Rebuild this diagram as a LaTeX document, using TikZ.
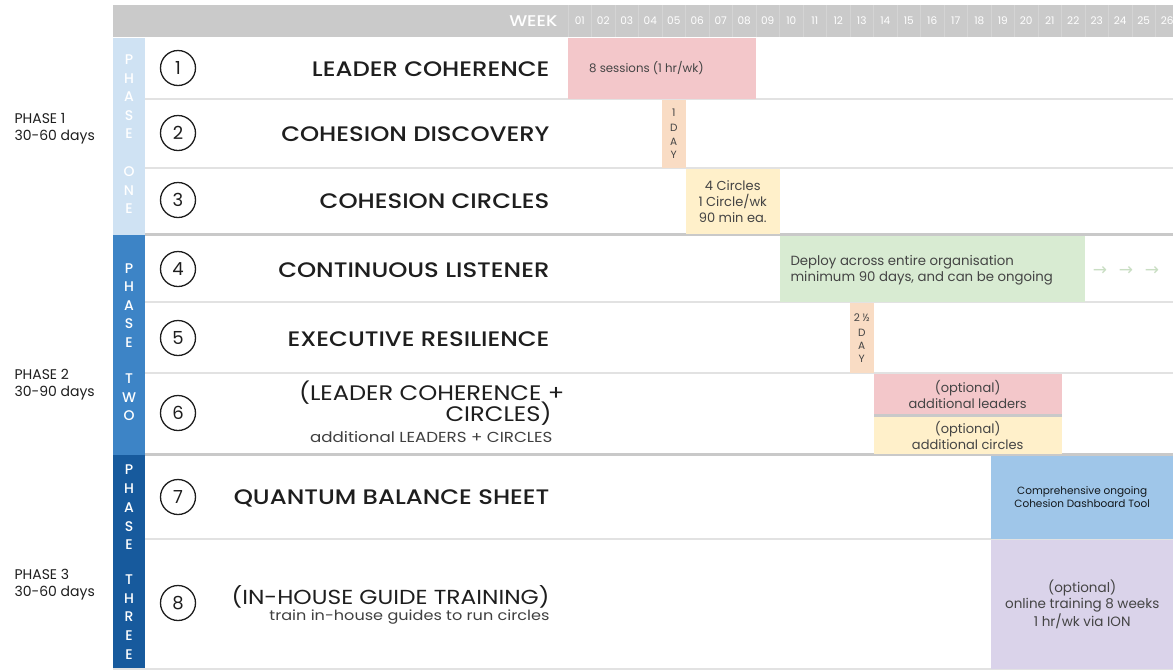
\documentclass[tikz,border=0pt]{standalone}
\usepackage{fontspec}
\setmainfont{Poppins}
\newfontfamily\med{Poppins Medium}[FakeStretch=1.16]
\newfontfamily\medn{Poppins Medium}
\newfontfamily\wide{Poppins}[FakeStretch=1.15]
\newfontfamily\djv{DejaVu Sans}
\definecolor{hdr}{HTML}{CACACA}
\definecolor{sepl}{HTML}{E2E2E2}
\definecolor{sepd}{HTML}{C9C9C9}
\definecolor{pinkc}{HTML}{F3C7CA}
\definecolor{peach}{HTML}{F9DCC4}
\definecolor{yell}{HTML}{FFF0CA}
\definecolor{greenc}{HTML}{D8EBD2}
\definecolor{bluec}{HTML}{9FC6E9}
\definecolor{purp}{HTML}{DAD3EA}
\definecolor{ph1}{HTML}{CFE2F3}
\definecolor{ph2}{HTML}{3D84C6}
\definecolor{ph3}{HTML}{175A9D}
\definecolor{ink}{HTML}{1E1E1E}
\definecolor{bartxt}{HTML}{444444}
\definecolor{arrowc}{HTML}{C9DEC3}
\tikzset{
  bar/.style={fill=#1, draw=none, anchor=north west, inner sep=0pt, align=center, text=bartxt, font=\fontsize{13}{16}\selectfont},
  title/.style={anchor=east, text=ink, font=\med\fontsize{21}{24}\selectfont},
  numc/.style={circle, draw=ink, line width=1.3pt, minimum size=35pt, inner sep=0pt, text=ink, font=\fontsize{18}{20}\selectfont},
  phl/.style={text=white, font=\medn\fontsize{14}{14}\selectfont, anchor=center},
  wknum/.style={text=white, font=\fontsize{10.5}{12}\selectfont},
  sidel/.style={anchor=west, align=left, text=ink, font=\fontsize{14}{17}\selectfont},
  vlet/.style={text=bartxt, font=\fontsize{10.5}{10}\selectfont},
}
\begin{document}
\begin{tikzpicture}[x=1pt,y=-1pt]
\useasboundingbox[fill=white] (0,0) rectangle (1173,670);
% header
\fill[hdr] (113,5) rectangle (1173,37);
\foreach \k in {0,...,25} {\draw[white!18!hdr, line width=0.5pt] ({568+23.5*\k},5) -- ({568+23.5*\k},37);}
\node[anchor=east, text=white, font=\med\fontsize{15.5}{16}\selectfont] (week) at (561,21) {WEEK};
\foreach \k in {1,...,26} {\node[wknum] (w\k) at ({568+23.5*(\k-0.5)},21) {\ifnum\k<10 0\fi\k};}
% phase columns
\fill[ph1] (113,38) rectangle (145,235);
\fill[ph2] (113,235) rectangle (145,455);
\fill[ph3] (113,455) rectangle (145,668);
\foreach \l/\y [count=\i] in {P/60,H/79,A/97,S/116,E/134,O/172,N/191,E/209} {\node[phl] (pa\i) at (129,\y) {\l};}
\foreach \l/\y [count=\i] in {P/269,H/287,A/306,S/324,E/343,T/379,W/398,O/416} {\node[phl] (pb\i) at (129,\y) {\l};}
\foreach \l/\y [count=\i] in {P/470,H/489,A/508,S/527,E/545,T/580,H/599,R/617,E/636,E/655} {\node[phl] (pc\i) at (129,\y) {\l};}
% separators
\foreach \y in {99,168,302,373,539} {\draw[sepl, line width=1.6pt] (145,\y) -- (1173,\y);}
\foreach \y in {234.5,454.5} {\draw[sepd, line width=3pt] (145,\y) -- (1173,\y);}
\draw[sepl, line width=1.6pt] (113,668.7) -- (1173,668.7);
% side phase labels
\node[sidel] (s1) at (11,128.5) {PHASE 1\\30-60 days};
\node[sidel] (s2) at (11,384.5) {PHASE 2\\30-90 days};
\node[sidel] (s3) at (11,584.5) {PHASE 3\\30-60 days};
% circled numbers and titles
\foreach \n/\y in {1/68,2/133,3/200,4/269,5/338,6/413,7/497,8/603} {\node[numc] (c\n) at (178,\y) {\n};}
\node[title] (t1) at (553,69) {LEADER COHERENCE};
\node[title] (t2) at (553,134) {COHESION DISCOVERY};
\node[title] (t3) at (553,201) {COHESION CIRCLES};
\node[title] (t4) at (553,270) {CONTINUOUS LISTENER};
\node[title] (t5) at (553,339) {EXECUTIVE RESILIENCE};
\node[anchor=east, text=ink, font=\wide\fontsize{21}{24}\selectfont] (t6a) at (568,393) {(LEADER COHERENCE +};
\node[anchor=east, text=ink, font=\wide\fontsize{21}{24}\selectfont] (t6b) at (555,414) {CIRCLES)};
\node[anchor=east, text=ink!85, font=\wide\fontsize{14.5}{16}\selectfont] (t6c) at (556,437) {additional LEADERS + CIRCLES};
\node[title] (t7) at (553,498) {QUANTUM BALANCE SHEET};
\node[anchor=east, text=ink, font=\wide\fontsize{20.3}{24}\selectfont] (t8a) at (553,597) {(IN-HOUSE GUIDE TRAINING)};
\node[anchor=east, text=ink!85, font=\wide\fontsize{14}{16}\selectfont] (t8b) at (553,617) {train in-house guides to run circles};
% bars
\node[bar=pinkc, minimum width=188pt, minimum height=60.5pt] (b1) at (568,38) {};
\node[text=bartxt, font=\fontsize{11.8}{14}\selectfont] (b1t) at (646.5,68) {8 sessions (1 hr/wk)};
\node[bar=peach, minimum width=23.5pt, minimum height=68pt] (b2) at (662,99.8) {};
\foreach \l/\y [count=\i] in {1/113,D/128,A/142,Y/155} {\node[vlet] (d\i) at (673.75,\y) {\l};}
\node[bar=yell, minimum width=94pt, minimum height=64.5pt, font=\fontsize{13}{16}\selectfont] (b3) at (685.5,168.8) {4 Circles\\1 Circle/wk\\90 min ea.};
\node[bar=greenc, minimum width=305.5pt, minimum height=65.5pt] (b4) at (779.5,236) {};
\node[anchor=west, align=left, text=bartxt, font=\fontsize{13.3}{16}\selectfont] (b4t) at (787,270) {Deploy across entire organisation\\minimum 90 days, and can be ongoing};
\foreach \x [count=\i] in {1100,1126,1152} {\node[text=arrowc, font=\djv\fontsize{17}{17}\selectfont] (ar\i) at (\x,271) {→};}
\node[bar=peach, minimum width=23.5pt, minimum height=70pt] (b5) at (850,302.8) {};
\foreach \l/\y [count=\i] in {2 ½/318,D/333,A/346,Y/359} {\node[vlet] (e\i) at (861.75,\y) {\l};}
\node[bar=pinkc, minimum width=188pt, minimum height=40pt] (b6a) at (873.5,373.8) {(optional)\\additional leaders};
\fill[sepd] (873.5,413.8) rectangle (1061.5,417);
\node[bar=yell, minimum width=188pt, minimum height=36.5pt] (b6b) at (873.5,417) {(optional)\\additional circles};
\node[bar=bluec, minimum width=182pt, minimum height=82.5pt, text=black!70!bluec!40!black, font=\fontsize{10.5}{13}\selectfont] (b7) at (991,456) {Comprehensive ongoing\\Cohesion Dashboard Tool};
\node[bar=purp, minimum width=182pt, minimum height=128.5pt, font=\fontsize{13.5}{16}\selectfont] (b8) at (991,539.8) {(optional)\\online training 8 weeks\\1 hr/wk via ION};
\end{tikzpicture}
\end{document}
